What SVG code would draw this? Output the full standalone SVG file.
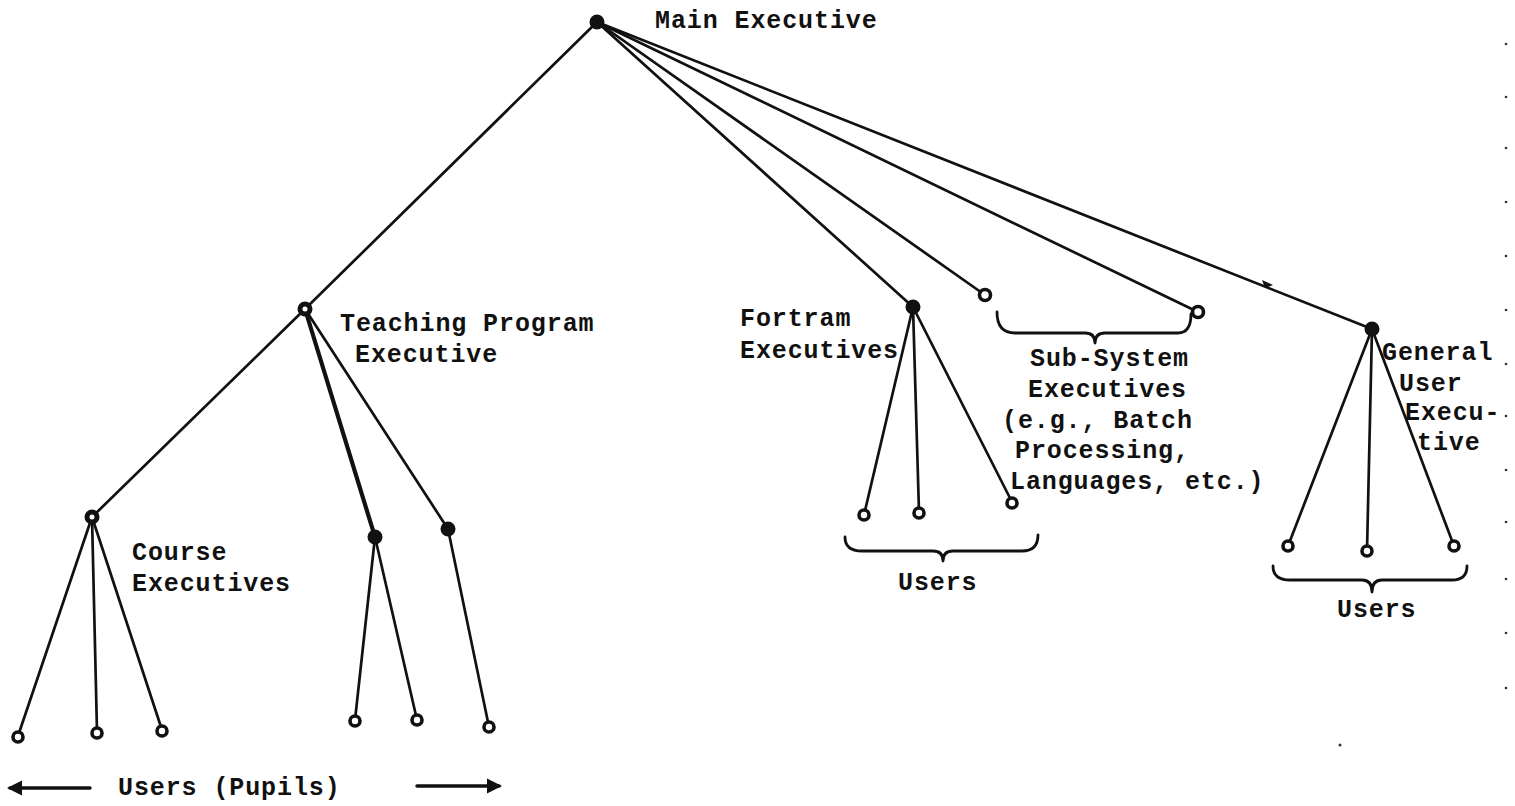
<svg xmlns="http://www.w3.org/2000/svg" width="1515" height="806" viewBox="0 0 1515 806">
  <style>
    .edge { stroke: #111; stroke-width: 2.7; fill: none; stroke-linecap: round; }
    .heavy { stroke-width: 4.2; }
    .arrow { stroke-width: 3.4; }
    .brace { stroke: #111; stroke-width: 2.8; fill: none; stroke-linecap: round; stroke-linejoin: round; }
    .open { fill: #fff; stroke: #111; stroke-width: 3.6; }
    .solid { fill: #111; stroke: #111; stroke-width: 2; }
    .ring { fill: #fff; stroke: #111; stroke-width: 5; }
    .lbl { font-family: "Liberation Mono", "DejaVu Sans Mono", monospace; font-size: 25px; font-weight: bold; letter-spacing: 0.9px; fill: #111; }
    .speck { fill: #333; }
  </style>
  <defs>
    <marker id="head" viewBox="0 0 10 10" refX="8" refY="5" markerWidth="4.5" markerHeight="4.5" orient="auto-start-reverse">
      <path d="M0,0 L10,5 L0,10 z" fill="#111"/>
    </marker>
  </defs>

  <!-- connectors -->
  <g id="connectors">
    <line class="edge" x1="597" y1="22" x2="305" y2="309"/>
    <line class="edge" x1="597" y1="22" x2="913" y2="307"/>
    <line class="edge" x1="597" y1="22" x2="985" y2="295"/>
    <line class="edge" x1="597" y1="22" x2="1198" y2="312"/>
    <line class="edge" x1="597" y1="22" x2="1372" y2="329"/>

    <line class="edge" x1="305" y1="309" x2="92" y2="517"/>
    <line class="edge heavy" x1="305" y1="309" x2="375" y2="537"/>
    <line class="edge" x1="305" y1="309" x2="448" y2="529"/>

    <line class="edge" x1="92" y1="517" x2="18" y2="736"/>
    <line class="edge" x1="92" y1="517" x2="97" y2="732"/>
    <line class="edge" x1="92" y1="517" x2="162" y2="730"/>

    <line class="edge" x1="375" y1="537" x2="355" y2="720"/>
    <line class="edge" x1="375" y1="537" x2="417" y2="720"/>
    <line class="edge" x1="448" y1="529" x2="489" y2="727"/>

    <line class="edge" x1="913" y1="307" x2="864" y2="515"/>
    <line class="edge" x1="913" y1="307" x2="919" y2="512"/>
    <line class="edge" x1="913" y1="307" x2="1012" y2="502"/>

    <line class="edge" x1="1372" y1="329" x2="1288" y2="546"/>
    <line class="edge" x1="1372" y1="329" x2="1367" y2="551"/>
    <line class="edge" x1="1372" y1="329" x2="1454" y2="546"/>

    <!-- small tick along the General User branch -->
    <path d="M1262,280 L1273,285 L1265,288 z" fill="#111"/>

    <!-- arrows either side of the pupils label -->
    <line class="edge arrow" x1="90" y1="788" x2="10" y2="788" marker-end="url(#head)"/>
    <line class="edge arrow" x1="417" y1="786" x2="499" y2="786" marker-end="url(#head)"/>
  </g>

  <!-- braces -->
  <g id="braces">
    <path class="brace" d="M997,312 Q997,333 1015,333 L1085,333 Q1095,333 1095,343 Q1095,333 1105,333 L1178,333 Q1191,333 1191,314"/>
    <path class="brace" d="M845,537 Q845,551 862,551 L933,551 Q943,551 943,561 Q943,551 953,551 L1022,551 Q1038,551 1038,535"/>
    <path class="brace" d="M1273,566 Q1273,580 1290,580 L1362,580 Q1372,580 1372,592 Q1372,580 1382,580 L1452,580 Q1467,580 1467,566"/>
  </g>

  <!-- nodes -->
  <g id="main-executive">
    <circle class="solid" cx="597" cy="22" r="6.5"/>
    <text class="lbl" x="655" y="28">Main Executive</text>
  </g>

  <g id="teaching-program-executive">
    <circle class="ring" cx="305" cy="309" r="5"/>
    <text class="lbl" x="340" y="331">Teaching Program</text>
    <text class="lbl" x="355" y="362">Executive</text>
  </g>

  <g id="course-executives">
    <circle class="ring" cx="92" cy="517" r="5"/>
    <circle class="solid" cx="375" cy="537" r="6.5"/>
    <circle class="solid" cx="448" cy="529" r="6.5"/>
    <text class="lbl" x="132" y="560">Course</text>
    <text class="lbl" x="132" y="591">Executives</text>
  </g>

  <g id="pupils">
    <circle class="open" cx="18" cy="737" r="5"/>
    <circle class="open" cx="97" cy="733" r="5"/>
    <circle class="open" cx="162" cy="731" r="5"/>
    <circle class="open" cx="355" cy="721" r="5"/>
    <circle class="open" cx="417" cy="720" r="5"/>
    <circle class="open" cx="489" cy="727" r="5"/>
    <text class="lbl" x="118" y="795">Users (Pupils)</text>
  </g>

  <g id="fortram-executives">
    <circle class="solid" cx="913" cy="307" r="6.5"/>
    <text class="lbl" x="740" y="326">Fortram</text>
    <text class="lbl" x="740" y="358">Executives</text>
  </g>

  <g id="fortram-users">
    <circle class="open" cx="864" cy="515" r="5"/>
    <circle class="open" cx="919" cy="513" r="5"/>
    <circle class="open" cx="1012" cy="503" r="5"/>
    <text class="lbl" x="898" y="590">Users</text>
  </g>

  <g id="sub-system-executives">
    <circle class="open" cx="985" cy="295" r="5.5"/>
    <circle class="open" cx="1198" cy="312" r="5.5"/>
    <text class="lbl" x="1030" y="366">Sub-System</text>
    <text class="lbl" x="1028" y="397">Executives</text>
    <text class="lbl" x="1002" y="428">(e.g., Batch</text>
    <text class="lbl" x="1015" y="458">Processing,</text>
    <text class="lbl" x="1010" y="489">Languages, etc.)</text>
  </g>

  <g id="general-user-executive">
    <circle class="solid" cx="1372" cy="329" r="6.5"/>
    <text class="lbl" x="1382" y="360">General</text>
    <text class="lbl" x="1399" y="391">User</text>
    <text class="lbl" x="1405" y="420">Execu-</text>
    <text class="lbl" x="1417" y="450">tive</text>
  </g>

  <g id="general-users">
    <circle class="open" cx="1288" cy="546" r="5"/>
    <circle class="open" cx="1367" cy="551" r="5"/>
    <circle class="open" cx="1454" cy="546" r="5"/>
    <text class="lbl" x="1337" y="617">Users</text>
  </g>

  <!-- feed-hole specks down the right margin -->
  <g id="margin-specks">
    <circle class="speck" cx="1506" cy="44" r="1.3"/>
    <circle class="speck" cx="1506" cy="97" r="1.3"/>
    <circle class="speck" cx="1506" cy="148" r="1.3"/>
    <circle class="speck" cx="1506" cy="202" r="1.3"/>
    <circle class="speck" cx="1506" cy="256" r="1.3"/>
    <circle class="speck" cx="1506" cy="310" r="1.3"/>
    <circle class="speck" cx="1506" cy="364" r="1.3"/>
    <circle class="speck" cx="1506" cy="416" r="1.3"/>
    <circle class="speck" cx="1506" cy="470" r="1.3"/>
    <circle class="speck" cx="1506" cy="522" r="1.3"/>
    <circle class="speck" cx="1506" cy="579" r="1.3"/>
    <circle class="speck" cx="1506" cy="633" r="1.3"/>
    <circle class="speck" cx="1506" cy="688" r="1.3"/>
    <circle class="speck" cx="1340" cy="745" r="1.5"/>
  </g>
</svg>
